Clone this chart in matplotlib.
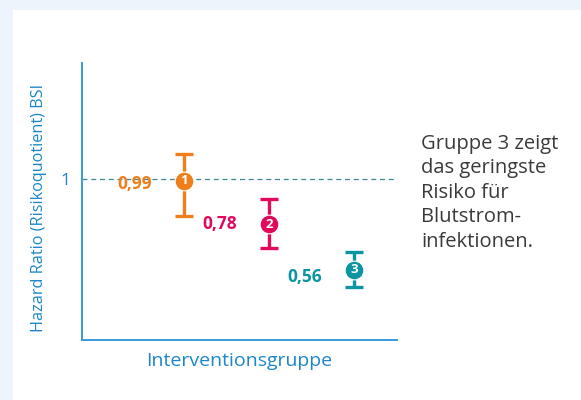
import matplotlib.pyplot as plt
from matplotlib.patches import Rectangle

# data
groups = ['1', '2', '3']
hr = [0.99, 0.78, 0.56]
ci_low = [0.82, 0.665, 0.476]
ci_high = [1.12, 0.90, 0.645]
hr_labels = ['0,99', '0,78', '0,56']
colors = ['#EE7F1A', '#E2085C', '#0B95A2']

note = "Gruppe 3 zeigt\ndas geringste\nRisiko für\nBlutstrom-\ninfektionen."

axis_blue = '#3A9ADA'
text_blue = '#1C87C9'

plt.rcParams['font.family'] = ['Open Sans', 'DejaVu Sans']

fig = plt.figure(figsize=(5.81, 4.0), dpi=100)
fig.patch.set_facecolor('#EDF4FC')
fig.add_artist(Rectangle((13 / 581, 0), 1, 390 / 400, transform=fig.transFigure,
                         facecolor='white', edgecolor='none', zorder=0))

ax = fig.add_axes([82 / 581, 60 / 400, 315 / 581, 277 / 400])
ax.set_facecolor('none')

x = [1, 2, 3]
ax.axhline(1.0, color='#3E8794', lw=0.9, ls=(0, (4, 3)), zorder=1)

label_dy = [-2, 0, -5]
for i in range(len(groups)):
    lo = hr[i] - ci_low[i]
    hi = ci_high[i] - hr[i]
    ax.errorbar(x[i], hr[i], yerr=[[lo], [hi]], fmt='none', ecolor=colors[i],
                elinewidth=2.4, capsize=6.5, capthick=2.4, zorder=2)
    ax.plot(x[i], hr[i], 'o', ms=13.5, color=colors[i], mec='white', mew=0.8, zorder=3)
    ax.text(x[i], hr[i], groups[i], color='white', fontsize=9.5, fontweight='bold',
            ha='center', va='center', zorder=4)
    ax.annotate(hr_labels[i], (x[i], hr[i]), xytext=(-23, label_dy[i]), textcoords='offset points',
                ha='right', va='center', color=colors[i], fontsize=12.5, fontweight='bold')

ax.set_xlim(-0.2, 3.5)
ax.set_ylim(0.22, 1.56)
ax.set_xticks([])
ax.set_yticks([1.0])
ax.set_yticklabels(['1'])
ax.tick_params(axis='y', length=0, pad=8, labelsize=12.5, labelcolor=text_blue)

for side in ['top', 'right']:
    ax.spines[side].set_visible(False)
for side in ['left', 'bottom']:
    ax.spines[side].set_color(axis_blue)
    ax.spines[side].set_linewidth(1.4)

ax.set_xlabel('Interventionsgruppe', fontsize=14, color=text_blue, labelpad=9)
ax.set_ylabel('Hazard Ratio (Risikoquotient) BSI', fontsize=11.7, color=text_blue,
              labelpad=10, y=0.477)

fig.text(421 / 581, 1 - 134 / 400, note, ha='left', va='top', fontsize=14.5,
         color='#3A3A3A', linespacing=1.3)

fig.savefig('out.png', dpi=100, facecolor=fig.get_facecolor())
